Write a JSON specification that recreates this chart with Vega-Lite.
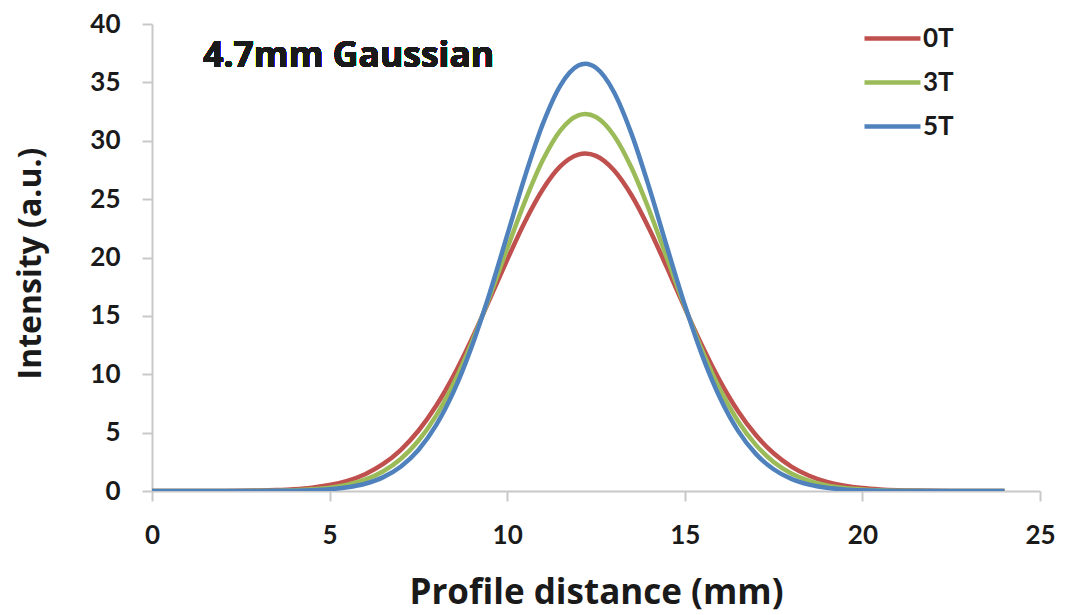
{
  "$schema": "https://vega.github.io/schema/vega-lite/v6.json",
  "width": 888,
  "height": 467,
  "autosize": "none",
  "padding": {"left": 152, "top": 24, "right": 25, "bottom": 124},
  "background": "white",
  "config": {
    "view": {"stroke": null},
    "font": "Lato"
  },
  "data": {
    "values": [
      {"x": 0, "0T": 0, "3T": 0, "5T": 0},
      {"x": 0.5, "0T": 0, "3T": 0, "5T": 0},
      {"x": 1, "0T": 0.002, "3T": 0, "5T": 0},
      {"x": 1.5, "0T": 0.004, "3T": 0.001, "5T": 0},
      {"x": 2, "0T": 0.009, "3T": 0.002, "5T": 0.001},
      {"x": 2.5, "0T": 0.019, "3T": 0.006, "5T": 0.002},
      {"x": 3, "0T": 0.039, "3T": 0.014, "5T": 0.005},
      {"x": 3.5, "0T": 0.079, "3T": 0.032, "5T": 0.012},
      {"x": 4, "0T": 0.152, "3T": 0.07, "5T": 0.029},
      {"x": 4.5, "0T": 0.283, "3T": 0.144, "5T": 0.068},
      {"x": 5, "0T": 0.507, "3T": 0.285, "5T": 0.15},
      {"x": 5.5, "0T": 0.871, "3T": 0.537, "5T": 0.314},
      {"x": 6, "0T": 1.442, "3T": 0.969, "5T": 0.621},
      {"x": 6.5, "0T": 2.293, "3T": 1.667, "5T": 1.168},
      {"x": 7, "0T": 3.508, "3T": 2.74, "5T": 2.081},
      {"x": 7.5, "0T": 5.159, "3T": 4.305, "5T": 3.517},
      {"x": 8, "0T": 7.3, "3T": 6.46, "5T": 5.64},
      {"x": 8.5, "0T": 9.93, "3T": 9.26, "5T": 8.57},
      {"x": 9, "0T": 13.0, "3T": 12.69, "5T": 12.36},
      {"x": 9.5, "0T": 16.37, "3T": 16.61, "5T": 16.89},
      {"x": 10, "0T": 19.81, "3T": 20.77, "5T": 21.91},
      {"x": 10.5, "0T": 23.07, "3T": 24.81, "5T": 26.94},
      {"x": 11, "0T": 25.83, "3T": 28.32, "5T": 31.42},
      {"x": 11.5, "0T": 27.82, "3T": 30.89, "5T": 34.75},
      {"x": 12, "0T": 28.81, "3T": 32.18, "5T": 36.45},
      {"x": 12.2, "0T": 28.9, "3T": 32.3, "5T": 36.6},
      {"x": 12.5, "0T": 28.7, "3T": 32.03, "5T": 36.25},
      {"x": 13, "0T": 27.49, "3T": 30.47, "5T": 34.2},
      {"x": 13.5, "0T": 25.33, "3T": 27.68, "5T": 30.59},
      {"x": 14, "0T": 22.45, "3T": 24.03, "5T": 25.96},
      {"x": 14.5, "0T": 19.13, "3T": 19.93, "5T": 20.88},
      {"x": 15, "0T": 15.68, "3T": 15.8, "5T": 15.94},
      {"x": 15.5, "0T": 12.36, "3T": 11.96, "5T": 11.53},
      {"x": 16, "0T": 9.37, "3T": 8.65, "5T": 7.92},
      {"x": 16.5, "0T": 6.83, "3T": 5.98, "5T": 5.15},
      {"x": 17, "0T": 4.79, "3T": 3.95, "5T": 3.18},
      {"x": 17.5, "0T": 3.23, "3T": 2.489, "5T": 1.861},
      {"x": 18, "0T": 2.095, "3T": 1.501, "5T": 1.034},
      {"x": 18.5, "0T": 1.307, "3T": 0.864, "5T": 0.544},
      {"x": 19, "0T": 0.784, "3T": 0.475, "5T": 0.272},
      {"x": 19.5, "0T": 0.453, "3T": 0.25, "5T": 0.129},
      {"x": 20, "0T": 0.251, "3T": 0.125, "5T": 0.058},
      {"x": 20.5, "0T": 0.134, "3T": 0.06, "5T": 0.025},
      {"x": 21, "0T": 0.069, "3T": 0.028, "5T": 0.01},
      {"x": 21.5, "0T": 0.034, "3T": 0.012, "5T": 0.004},
      {"x": 22, "0T": 0.016, "3T": 0.005, "5T": 0.001},
      {"x": 22.5, "0T": 0.007, "3T": 0.002, "5T": 0},
      {"x": 23, "0T": 0.003, "3T": 0.001, "5T": 0},
      {"x": 23.5, "0T": 0.001, "3T": 0, "5T": 0},
      {"x": 24, "0T": 0, "3T": 0, "5T": 0}
    ]
  },
  "layer": [
    {
      "transform": [{"fold": ["0T", "3T", "5T"], "as": ["series", "value"]}],
      "mark": {"type": "line", "interpolate": "monotone", "strokeWidth": 4.5, "clip": true},
      "encoding": {
        "x": {
          "field": "x", "type": "quantitative",
          "scale": {"domain": [0, 25], "nice": false, "zero": false},
          "axis": {
            "title": "Profile distance (mm)",
            "values": [0, 5, 10, 15, 20, 25],
            "grid": false,
            "domainColor": "#c8c8c8", "domainWidth": 2,
            "tickColor": "#c8c8c8", "tickWidth": 2, "tickSize": 10,
            "labelFont": "Lato", "labelFontWeight": "bold", "labelFontSize": 26, "labelColor": "#1a1a1a",
            "labelPadding": 21, "labelBaseline": "top", "labelFlush": false,
            "titleFont": "Open Sans", "titleFontWeight": "bold", "titleFontSize": 35, "titleColor": "#1a1a1a",
            "titleX": 444, "titleY": 112, "titleBaseline": "alphabetic", "titleAlign": "center"
          }
        },
        "y": {
          "field": "value", "type": "quantitative",
          "scale": {"domain": [0, 40], "nice": false},
          "axis": {
            "title": "Intensity (a.u.)",
            "values": [0, 5, 10, 15, 20, 25, 30, 35, 40],
            "grid": false,
            "domainColor": "#c8c8c8", "domainWidth": 2,
            "tickColor": "#c8c8c8", "tickWidth": 2, "tickSize": 10,
            "labelFont": "Lato", "labelFontWeight": "bold", "labelFontSize": 26, "labelColor": "#1a1a1a",
            "labelPadding": 22, "labelFlush": false,
            "titleFont": "Open Sans", "titleFontWeight": "bold", "titleFontSize": 32, "titleColor": "#1a1a1a",
            "titleX": -122, "titleY": 239, "titleAngle": -90, "titleBaseline": "middle", "titleAlign": "center"
          }
        },
        "color": {
          "field": "series", "type": "nominal",
          "scale": {"domain": ["0T", "3T", "5T"], "range": ["#C0504D", "#9BBB59", "#4F81BD"]},
          "legend": {
            "title": null,
            "orient": "none",
            "legendX": 710,
            "legendY": -16,
            "symbolType": "stroke",
            "symbolSize": 3136,
            "symbolStrokeWidth": 4.5,
            "rowPadding": -13,
            "labelOffset": 0,
            "labelFont": "Lato", "labelFontWeight": "bold", "labelFontSize": 26, "labelColor": "#1a1a1a",
            "padding": 0
          }
        }
      }
    },
    {
      "mark": {"type": "text", "text": "4.7mm Gaussian", "font": "Open Sans", "fontWeight": "bold", "fontSize": 35.5, "align": "left", "baseline": "alphabetic", "color": "#1a1a1a"},
      "encoding": {
        "x": {"datum": 1.44, "type": "quantitative"},
        "y": {"datum": 36.3, "type": "quantitative"}
      }
    }
  ]
}
